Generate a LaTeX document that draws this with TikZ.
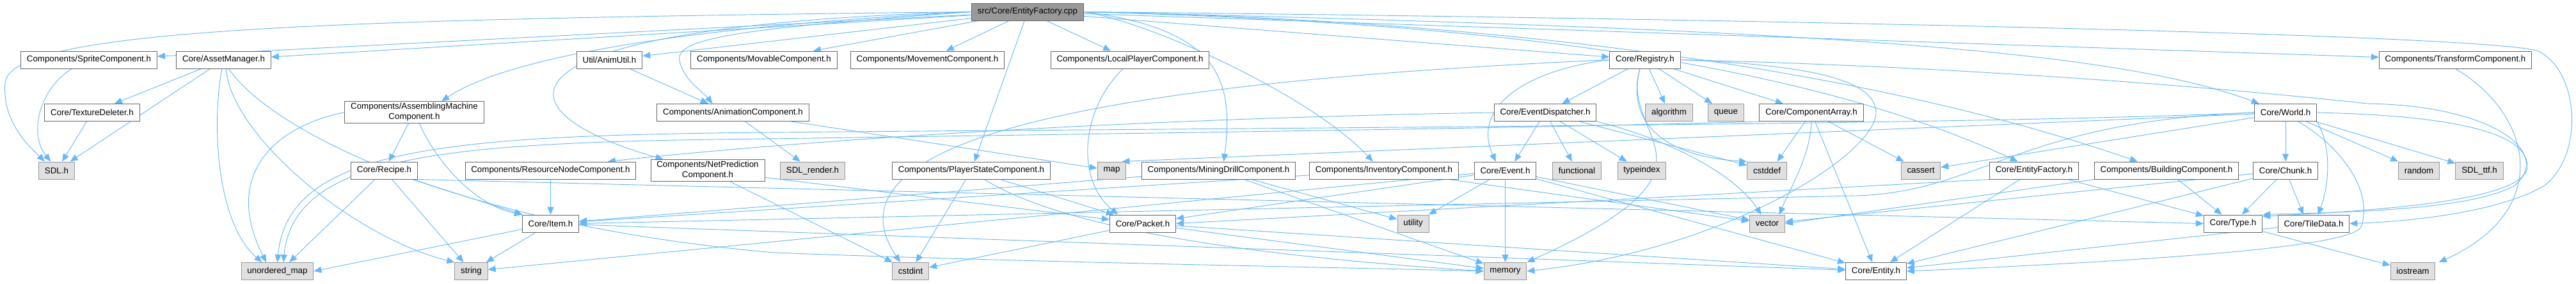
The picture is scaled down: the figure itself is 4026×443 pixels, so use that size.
\documentclass[tikz,border=0pt]{standalone}
\usepackage{fontspec}
\setmainfont{Liberation Sans}
\usetikzlibrary{arrows.meta,backgrounds}
\definecolor{depblue}{HTML}{63B8FF}
\definecolor{boxline}{HTML}{666666}
\definecolor{sysline}{HTML}{999999}
\definecolor{sysfill}{HTML}{E0E0E0}
\definecolor{rootfill}{HTML}{999999}

\begin{document}
\begin{tikzpicture}[
  x=0.75pt, y=-0.75pt,
  every node/.style={font=\fontsize{10}{12}\selectfont},
  filebox/.style={draw=boxline,fill=white,line width=0.75pt,inner xsep=7pt,inner ysep=2pt,
                  minimum height=20.25pt,align=center},
  sysbox/.style={filebox,draw=sysline,fill=sysfill},
  rootbox/.style={filebox,fill=rootfill},
  dep/.style={draw=depblue,line width=0.7pt,-{Triangle[length=9pt,width=7.5pt]}},
]
  \useasboundingbox (0,0) rectangle (4026,443);

  % Row 0
  \node[rootbox] (root) at (1606,18.5) {src/Core/EntityFactory.cpp};

  % Row 1
  \node[filebox] (sprite) at (139,93.5) {Components/SpriteComponent.h};
  \node[filebox] (assetmgr) at (349.5,93.5) {Core/AssetManager.h};
  \node[filebox] (animutil) at (952.5,93.5) {Util/AnimUtil.h};
  \node[filebox] (movable) at (1194,93.5) {Components/MovableComponent.h};
  \node[filebox] (movement) at (1449.5,93.5) {Components/MovementComponent.h};
  \node[filebox] (localplayer) at (1766,93.5) {Components/LocalPlayerComponent.h};
  \node[filebox] (registry) at (2571,93.5) {Core/Registry.h};
  \node[filebox] (transform) at (3837.5,93.5) {Components/TransformComponent.h};

  % Row 2
  \node[filebox] (texdel) at (144,176) {Core/TextureDeleter.h};
  \node[filebox] (assembling) at (647.5,175.5) {Components/AssemblingMachine\\Component.h};
  \node[filebox] (animcomp) at (1145.5,176) {Components/AnimationComponent.h};
  \node[filebox] (dispatcher) at (2415,176) {Core/EventDispatcher.h};
  \node[sysbox] (algorithm) at (2608.5,176) {algorithm};
  \node[sysbox] (queue) at (2697.5,176) {queue};
  \node[filebox] (comparray) at (2831,176) {Core/ComponentArray.h};
  \node[filebox] (world) at (3572,176) {Core/World.h};

  % Row 3
  \node[sysbox] (sdl) at (88.5,266.5) {SDL.h};
  \node[filebox] (recipe) at (600.5,266.5) {Core/Recipe.h};
  \node[filebox] (resnode) at (860.5,266.5) {Components/ResourceNodeComponent.h};
  \node[filebox] (netpred) at (1106,266.5) {Components/NetPrediction\\Component.h};
  \node[sysbox] (sdlrender) at (1270,266.5) {SDL\_render.h};
  \node[filebox] (playerstate) at (1518,266.5) {Components/PlayerStateComponent.h};
  \node[sysbox] (map) at (1737.5,266.5) {map};
  \node[filebox] (drill) at (1904.5,266.5) {Components/MiningDrillComponent.h};
  \node[filebox] (inventory) at (2163,266.5) {Components/InventoryComponent.h};
  \node[filebox] (event) at (2352.5,266.5) {Core/Event.h};
  \node[sysbox] (functional) at (2464.5,266.5) {functional};
  \node[sysbox] (typeindex) at (2566,266.5) {typeindex};
  \node[sysbox] (cstddef) at (2761.5,266.5) {cstddef};
  \node[sysbox] (cassert) at (3002,266.5) {cassert};
  \node[filebox] (efactory) at (3179,266.5) {Core/EntityFactory.h};
  \node[filebox] (building) at (3386,266.5) {Components/BuildingComponent.h};
  \node[filebox] (chunk) at (3572,266.5) {Core/Chunk.h};
  \node[sysbox] (random) at (3780.5,266.5) {random};
  \node[sysbox] (sdlttf) at (3875,266.5) {SDL\_ttf.h};

  % Row 4
  \node[filebox] (item) at (860.5,349.5) {Core/Item.h};
  \node[filebox] (packet) at (1786,349.5) {Core/Packet.h};
  \node[sysbox] (utility) at (2208.5,349.5) {utility};
  \node[sysbox] (vector) at (2762,349.5) {vector};
  \node[filebox] (type) at (3490,349.5) {Core/Type.h};
  \node[filebox] (tiledata) at (3616,349.5) {Core/TileData.h};

  % Row 5
  \node[sysbox] (umap) at (433.5,424) {unordered\_map};
  \node[sysbox] (string) at (736.5,424) {string};
  \node[sysbox] (cstdint) at (1423,424) {cstdint};
  \node[sysbox] (memory) at (2352.5,424) {memory};
  \node[filebox] (entity) at (2932,424) {Core/Entity.h};
  \node[sysbox] (iostream) at (3771,424) {iostream};

  \begin{pgfonlayer}{background}
  % from the source file
  \draw[dep] (root.west) .. controls (500,30) and (15,45) .. (8,130)
             .. controls (3,190) and (45,228) .. ([xshift=-14pt]sdl.north);
  \draw[dep] (root) -- (sprite);
  \draw[dep] (root) -- (assetmgr);
  \draw[dep] (root) -- (animutil);
  \draw[dep] (root.west) .. controls (1150,45) and (1055,60) .. (1062,95)
             .. controls (1068,125) and (1100,145) .. ([xshift=-24pt]animcomp.north);
  \draw[dep] (root) -- (movable);
  \draw[dep] (root) -- (movement);
  \draw[dep] (root.west) .. controls (1100,40) and (800,85) .. ([xshift=32pt]assembling.north);
  \draw[dep] (root.west) .. controls (760,40) and (760,170) .. ([xshift=-52pt]netpred.north);
  \draw[dep] (root) -- (playerstate);
  \draw[dep] (root) -- (localplayer);
  \draw[dep] (root.east) .. controls (1900,45) and (1930,120) .. ([xshift=6pt]drill.north);
  \draw[dep] (root.east) .. controls (1800,35) and (2050,150) .. ([xshift=-13pt]inventory.north);
  \draw[dep] (root) -- (registry);
  \draw[dep] (root.east) .. controls (2300,35) and (2800,90) .. ([xshift=-19pt]efactory.north);
  \draw[dep] (root.east) .. controls (2300,30) and (2900,100) .. ([xshift=-34pt]building.north);
  \draw[dep] (root.east) .. controls (2800,45) and (3300,75) .. ([xshift=-31pt]world.north);
  \draw[dep] (root) -- (transform);
  \draw[dep] (root.east) .. controls (2800,30) and (3900,55) .. (3967,80)
             .. controls (4030,110) and (4040,240) .. (3977,290)
             .. controls (3900,335) and (3750,347) .. (tiledata.east);

  % Core/AssetManager.h
  \draw[dep] (assetmgr) -- (texdel);
  \draw[dep] (assetmgr) -- (sdl);
  \draw[dep] ([xshift=-2pt]assetmgr.south) .. controls (330,200) and (340,350) .. ([xshift=-18pt]umap.north);
  \draw[dep] ([xshift=3pt]assetmgr.south) .. controls (360,210) and (550,370) .. (string.north west);
  \draw[dep] ([xshift=6pt]assetmgr.south) .. controls (420,200) and (700,350) .. (1210,395)
             .. controls (1600,410) and (2100,418) .. (memory.west);
  \draw[dep] ([xshift=-20pt]sprite.south) .. controls (60,140) and (45,210) .. ([xshift=-7pt]sdl.north);
  \draw[dep] (texdel) -- (sdl);

  % animation
  \draw[dep] (animutil) -- ([xshift=-29pt]animcomp.north);
  \draw[dep] (animcomp) -- (sdlrender);
  \draw[dep] (animcomp) -- (map);

  % assembling machine and recipe
  \draw[dep] (assembling) -- (recipe);
  \draw[dep] (assembling.west) .. controls (420,200) and (350,280) .. ([xshift=-13pt]umap.north);
  \draw[dep] ([xshift=6pt]assembling.south) .. controls (680,250) and (740,320) .. (item.north west);
  \draw[dep] (recipe) -- (item);
  \draw[dep] (recipe) -- ([xshift=14pt]umap.north);
  \draw[dep] (recipe) -- (string);
  \draw[dep] (recipe.south east) -- (type.west);
  \draw[dep] (resnode) -- (item);

  % components
  \draw[dep] (netpred) -- (cstdint);
  \draw[dep] (netpred) -- (packet);
  \draw[dep] (playerstate) -- (cstdint);
  \draw[dep] (playerstate) -- (packet);
  \draw[dep] ([xshift=15pt]playerstate.south) .. controls (1620,330) and (1800,390) .. (memory.west);
  \draw[dep] ([xshift=-8pt]localplayer.south) .. controls (1690,170) and (1680,280) .. ([xshift=-29pt]packet.north);
  \draw[dep] (drill) -- (item);
  \draw[dep] (drill) -- (utility);
  \draw[dep] (drill) -- (memory);
  \draw[dep] (inventory) -- (item);
  \draw[dep] (inventory) -- (vector);

  % Core/Registry.h
  \draw[dep] (registry) -- (dispatcher);
  \draw[dep] (registry) -- (algorithm);
  \draw[dep] (registry) -- (queue);
  \draw[dep] (registry) -- (comparray);
  \draw[dep] (registry.west) .. controls (2380,110) and (2300,170) .. ([xshift=-11pt]event.north);
  \draw[dep] (registry.west) .. controls (1700,130) and (1280,220) .. ([xshift=-12pt]cstdint.north);
  \draw[dep] ([xshift=-6pt]registry.south) .. controls (2540,190) and (2600,245) .. (cstddef.north west);
  \draw[dep] ([xshift=-6pt]registry.south) .. controls (2530,220) and (2720,260) .. (memory.north east);
  \draw[dep] (registry.east) .. controls (2850,102) and (2930,130) .. (2932,175)
             .. controls (2934,240) and (2700,390) .. (memory.east);
  \draw[dep] (registry.east) .. controls (3100,105) and (3500,140) .. (3700,162)
             .. controls (3900,165) and (3990,240) .. (3930,290)
             .. controls (3860,330) and (3650,332) .. (type.north east);

  % Core/EventDispatcher.h
  \draw[dep] (dispatcher) -- ([xshift=11pt]event.north);
  \draw[dep] (dispatcher) -- (functional);
  \draw[dep] (dispatcher) -- (typeindex);
  \draw[dep] (dispatcher) -- (cstddef);
  \draw[dep] (dispatcher.south east) .. controls (2600,215) and (2710,270) .. ([xshift=-7pt]vector.north);
  \draw[dep] (dispatcher.west) .. controls (1800,185) and (1300,215) .. ([xshift=67pt]resnode.north);

  % Core/Event.h
  \draw[dep] (event) -- (memory);
  \draw[dep] (event) -- (utility);
  \draw[dep] (event) -- (packet);
  \draw[dep] (event) -- (string);
  \draw[dep] (event) -- (vector);
  \draw[dep] (event) -- (entity);

  % Core/ComponentArray.h
  \draw[dep] (comparray) -- ([xshift=12pt]cstddef.north);
  \draw[dep] (comparray.south) .. controls (2830,240) and (2800,290) .. ([xshift=14pt]vector.north);
  \draw[dep] (comparray) -- (entity);
  \draw[dep] (comparray) -- (cassert);
  \draw[dep] (comparray.south west) .. controls (2400,200) and (2000,205) .. (1200,217)
             .. controls (700,222) and (460,240) .. ([xshift=7pt]umap.north);

  % Core/World.h
  \draw[dep] (world) -- (chunk);
  \draw[dep] (world) -- (random);
  \draw[dep] (world) -- (sdlttf);
  \draw[dep] (world) -- (cassert);
  \draw[dep] (world) -- ([xshift=12pt]map.north);
  \draw[dep] (world.west) .. controls (3100,195) and (2000,200) .. (1200,207)
             .. controls (700,212) and (450,230) .. (umap.north);
  \draw[dep] (world.west) .. controls (3150,190) and (3100,300) .. (2900,306) -- (item.east);
  \draw[dep] (world.south east) .. controls (3645,230) and (3640,290) .. ([xshift=5pt]tiledata.north);
  \draw[dep] ([xshift=15pt]world.south) .. controls (3660,230) and (3710,300) .. (3690,355)
             .. controls (3670,390) and (3300,410) .. (entity.east);
  \draw[dep] (world.east) .. controls (3800,180) and (3950,200) .. (3950,260)
             .. controls (3950,310) and (3750,328) .. ([yshift=-2pt]type.north east);

  % Core/Chunk.h
  \draw[dep] (chunk) -- (type);
  \draw[dep] (chunk) -- ([xshift=-12pt]tiledata.north);
  \draw[dep] (chunk) -- (vector);
  \draw[dep] (chunk) -- (entity);

  % lower headers
  \draw[dep] (item) -- (umap.east);
  \draw[dep] (item) -- (string);
  \draw[dep] (item) -- (entity);
  \draw[dep] (packet) -- (cstdint);
  \draw[dep] (packet) -- (memory);
  \draw[dep] (packet) -- (entity);
  \draw[dep] (efactory) -- (type);
  \draw[dep] (efactory) -- (entity);
  \draw[dep] (efactory.south west) -- (packet.east);
  \draw[dep] (building) -- (type);
  \draw[dep] (building.south west) -- (vector.east);
  \draw[dep] (tiledata) -- (entity);
  \draw[dep] (type) -- (iostream);
  \draw[dep] (transform.south) .. controls (3960,180) and (3990,330) .. ([xshift=4pt]iostream.north east);
  \end{pgfonlayer}
\end{tikzpicture}
\end{document}
